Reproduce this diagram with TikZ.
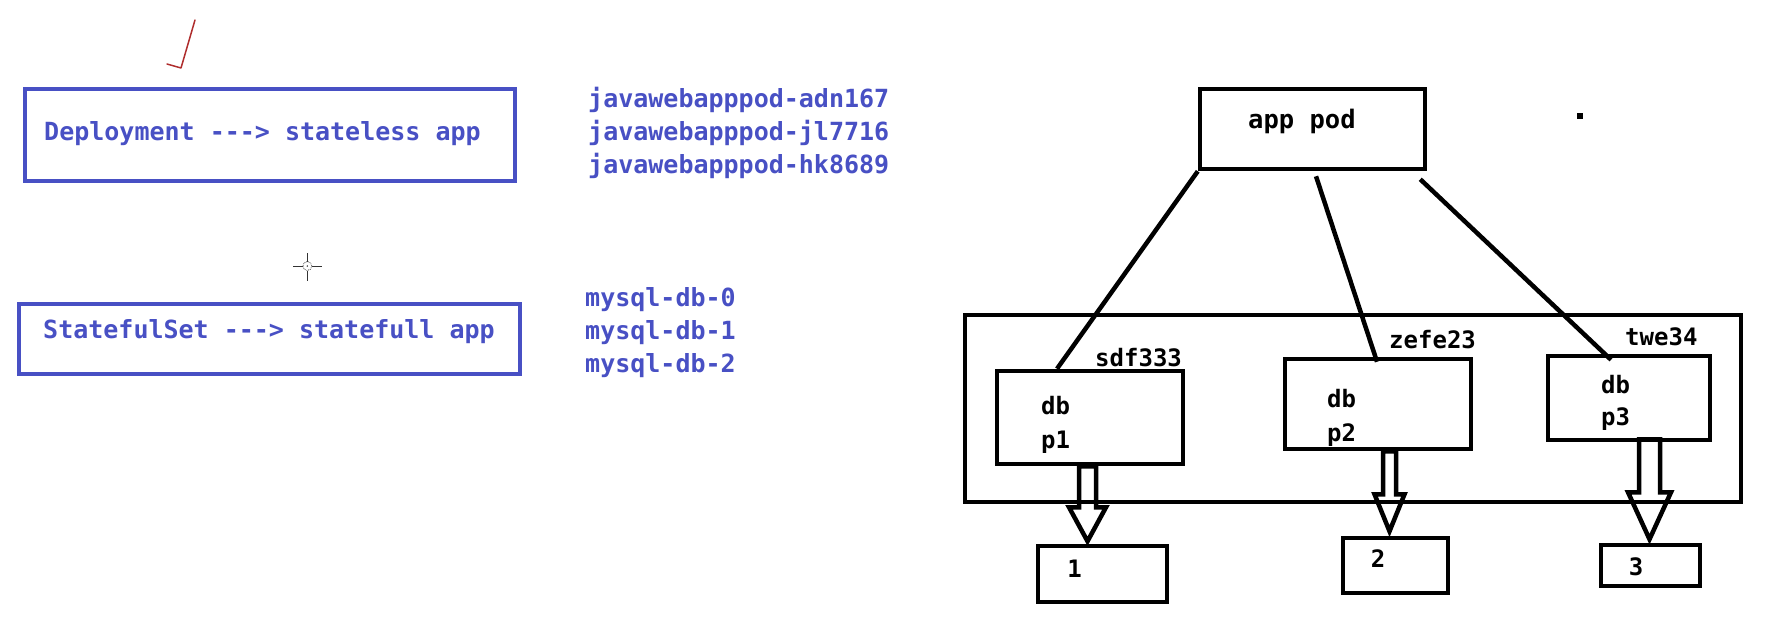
\documentclass[tikz,border=0pt]{standalone}
\usepackage{fontspec}
\setmonofont{DejaVu Sans Mono}
\definecolor{dblue}{RGB}{72,80,196}
\definecolor{chkred}{RGB}{175,45,45}
\begin{document}
\begin{tikzpicture}[x=1pt,y=-1pt,
  bluebox/.style={draw=dblue,line width=4pt,rectangle,inner sep=0pt},
  blk/.style={draw=black,line width=4.5pt,rectangle,inner sep=0pt},
  bluetxt/.style={text=dblue,inner sep=0pt,anchor=base west,font=\ttfamily\bfseries\fontsize{25}{30}\selectfont},
  blktxt/.style={text=black,inner sep=0pt,anchor=base west,font=\ttfamily\bfseries\fontsize{24}{28}\selectfont},
  bigtxt/.style={text=black,inner sep=0pt,anchor=base west,font=\ttfamily\bfseries\fontsize{25.5}{30}\selectfont},
  conn/.style={draw=black,line width=4.5pt},
  blockarr/.style={draw=black,line width=4.5pt,line join=miter}]
\useasboundingbox (0,0) rectangle (1776,638);

% left side
\node[bluebox,minimum width=490pt,minimum height=92pt] (dep) at (270,135) {};
\node[bluetxt] (deptxt) at (44,140) {Deployment ---> stateless app};
\node[bluebox,minimum width=501pt,minimum height=70pt] (sts) at (269.5,339) {};
\node[bluetxt] (ststxt) at (43,338) {StatefulSet ---> statefull app};

\node[bluetxt] (jw1) at (588,107) {javawebapppod-adn167};
\node[bluetxt] (jw2) at (588,140) {javawebapppod-jl7716};
\node[bluetxt] (jw3) at (588,173) {javawebapppod-hk8689};

\node[bluetxt] (my0) at (585,306) {mysql-db-0};
\node[bluetxt] (my1) at (585,339) {mysql-db-1};
\node[bluetxt] (my2) at (585,372) {mysql-db-2};

% red tick
\draw[chkred,line width=1.5pt,line cap=round,line join=round] (195,20) -- (181,68) -- (167,64);

% cursor crosshair
\draw[black!80,line width=1pt] (293,266) -- (302.5,266) (312,266) -- (322,266)
  (307.3,253) -- (307.3,261.5) (307.3,270.5) -- (307.3,281);
\draw[black!70,line width=0.8pt,densely dotted] (307.3,266) circle (4.5pt);
\fill[black!80] (307.3,266) circle (0.8pt);

% right side
\node[blk,minimum width=225pt,minimum height=80pt] (app) at (1312.5,129) {};
\node[bigtxt] (apptxt) at (1248,128) {app pod};
\fill[black] (1577,113) rectangle (1583,119);

\node[blk,minimum width=776pt,minimum height=187pt] (cont) at (1353,408.5) {};

\node[blk,minimum width=186pt,minimum height=93pt] (p1) at (1090,417.5) {};
\node[blk,minimum width=186pt,minimum height=90pt] (p2) at (1378,404) {};
\node[blk,minimum width=162pt,minimum height=84pt] (p3) at (1629,398) {};

\node[blktxt] (n1) at (1095,366) {sdf333};
\node[blktxt] (n2) at (1389,348) {zefe23};
\node[blktxt] (n3) at (1625,345) {twe34};

\node[blktxt] (db1) at (1041,414) {db};
\node[blktxt] (pp1) at (1041,448) {p1};
\node[blktxt] (db2) at (1327,407) {db};
\node[blktxt] (pp2) at (1327,441) {p2};
\node[blktxt] (db3) at (1601,393) {db};
\node[blktxt] (pp3) at (1601,425) {p3};

\node[blk,minimum width=129pt,minimum height=56pt] (b1) at (1102.5,574) {};
\node[blk,minimum width=105pt,minimum height=55pt] (b2) at (1395.5,565.5) {};
\node[blk,minimum width=99pt,minimum height=41pt] (b3) at (1650.5,565.5) {};
\node[blktxt,anchor=base] (t1) at (1074.5,577) {1};
\node[blktxt,anchor=base] (t2) at (1378,567) {2};
\node[blktxt,anchor=base] (t3) at (1636,575) {3};

% connectors
\draw[conn] (app.south west) -- ([xshift=-33pt]p1.north);
\draw[conn] ([xshift=3.5pt,yshift=-5pt]app.south) -- ([xshift=-1pt,yshift=-5pt]p2.north);
\draw[conn] ([xshift=-7pt,yshift=-8pt]app.south east) -- ([xshift=-18pt,yshift=-6pt]p3.north);

% block arrows
\draw[blockarr] ([xshift=-11pt]p1.south) -- ++(0,41) -- ++(-10,0) -- ++(18.5,34)
  -- ++(18.5,-34) -- ++(-10,0) -- ++(0,-41) -- cycle;
\draw[blockarr] ([xshift=5pt]p2.south) -- ++(0,43) -- ++(-8.5,0) -- ++(15,37)
  -- ++(15,-37) -- ++(-8.5,0) -- ++(0,-43) -- cycle;
\draw[blockarr] ([xshift=10pt,yshift=3pt]p3.south) -- ++(0,53) -- ++(-11,0) -- ++(21.5,47)
  -- ++(21.5,-47) -- ++(-11,0) -- ++(0,-53) -- cycle;
\end{tikzpicture}
\end{document}
